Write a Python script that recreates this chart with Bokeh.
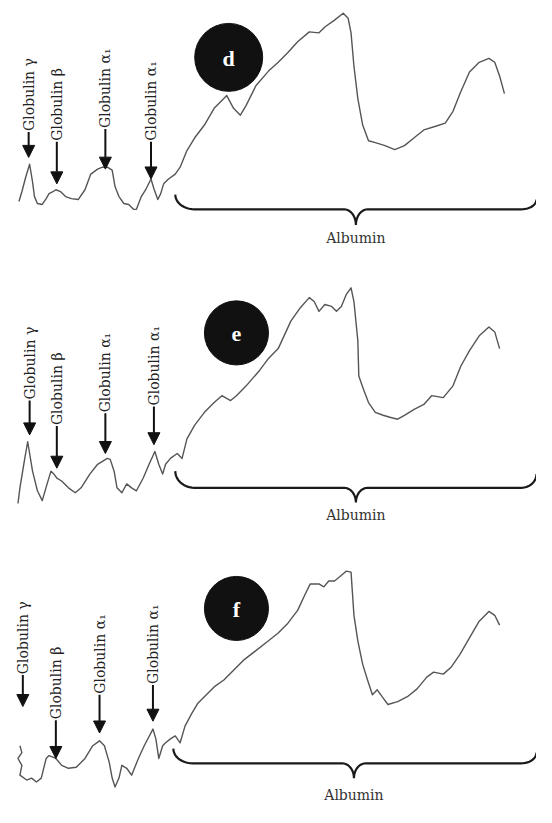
import numpy as np
from bokeh.plotting import figure
from bokeh.models import Range1d, ColumnDataSource, Arrow, NormalHead
from bokeh.core.properties import value
from bokeh.embed import file_html
from bokeh.resources import INLINE

# ---- densitometer scans: position along strip and absorbance
d_pos = [19,22,26,30,33,35,38,43,47,50,54,57,62,67,73,80,87,93,100,105,
         110,115,118,122,127,132,137,140,145,150,155,158,162,165,168,173,180,185,192,200,
         210,220,230,233,240,247,253,263,276,286,296,306,318,328,334,344,353,358,361,364,
         368,373,379,386,396,406,416,426,436,449,458,466,474,483,493,503,509,514,519]
d_abs = [15,25,40,53,35,20,13,12,18,23,25,27,25,20,18,17,27,43,48,50,
         50,47,30,20,13,12,7,7,20,28,38,28,17,23,33,38,43,50,67,80,
         93,110,120,123,110,103,113,133,148,157,167,178,188,187,193,200,207,202,187,153,
         120,93,77,75,72,68,72,80,88,92,95,107,127,147,157,161,157,143,125]

e_pos = [18,20,25,28,33,38,43,48,52,55,58,63,70,77,83,92,100,110,113,117,
         120,125,130,135,140,147,153,159,163,167,170,175,182,187,192,200,210,220,228,237,
         243,253,267,276,286,299,309,318,323,328,334,341,346,351,356,361,364,368,369,374,
         379,386,394,401,409,416,426,436,444,456,466,474,483,493,503,509,514]
e_abs = [7,23,53,70,40,20,10,27,40,37,33,30,23,18,23,37,47,53,52,40,
         23,18,27,23,20,33,47,60,47,37,47,53,58,53,73,87,100,110,117,112,
         117,127,143,155,165,193,207,217,213,203,210,208,203,208,220,227,213,173,137,123,
         110,100,97,95,93,97,103,108,117,115,127,147,163,178,187,182,165]

f_pos = [20,22,18,22,20,27,32,37,42,47,50,57,63,70,78,87,95,102,107,112,
         115,118,122,125,130,135,142,148,157,160,163,167,170,175,180,185,190,197,203,213,
         220,230,240,250,263,276,286,296,306,313,319,328,333,338,344,349,356,361,364,368,
         373,378,383,388,393,399,409,419,429,439,446,456,464,473,483,493,503,509,514]
f_abs = [50,43,37,30,20,15,17,13,17,37,40,37,30,27,28,37,50,55,50,33,
         17,8,17,30,27,20,37,50,67,57,37,50,53,57,60,53,70,83,93,103,
         110,117,127,137,147,157,165,175,188,203,215,215,212,218,218,222,228,227,183,157,
         133,117,102,107,100,92,95,100,108,120,125,123,130,143,160,177,187,183,173]

panel_letters = ["d", "e", "f"]
fraction_labels = ["Globulin \u03b3", "Globulin \u03b2", "Globulin \u03b1\u2081", "Globulin \u03b1\u2081"]
albumin_label = "Albumin"

# ---- layout (coordinates of the original 552x823 figure)
bases = [220, 520, 810]
label_layout = [
    [(29, 133, 160), (58, 143, 187), (108, 130, 172), (155, 143, 182)],
    [(30, 407, 443), (58, 433, 477), (108, 420, 462), (158, 413, 453)],
    [(23, 687, 720), (57, 733, 773), (102, 707, 747), (157, 697, 735)],
]
circles = [(235, 58, 35), (243, 339, 33), (243, 620, 33)]
braces = [  # x0, y_start, y_line, x_mid, y_tip, x1, y_end
    (180, 198, 213, 366, 229, 552, 203),
    (180, 480, 497, 366, 512, 552, 483),
    (178, 763, 778, 364, 793, 552, 767),
]
albumin_pos = [(366, 242), (366, 525), (364, 810)]

p = figure(width=536, height=807, output_backend="svg", toolbar_location=None,
           x_range=Range1d(0, 552), y_range=Range1d(823, 0),
           min_border=0, min_border_left=0, min_border_right=0,
           min_border_top=0, min_border_bottom=0)
p.axis.visible = False
p.grid.visible = False
p.outline_line_color = None
p.background_fill_color = "white"
p.border_fill_color = "white"

def brace_path(x0, ys, yl, xm, yt, x1, ye):
    t = np.linspace(0, np.pi / 2, 12)
    xs, yy = [], []
    xs += list(x0 + 20 * (1 - np.cos(t))); yy += list(ys + (yl - ys) * np.sin(t))
    xs += list(xm - 12 + 12 * np.sin(t)); yy += list(yl + (yt - yl) * (1 - np.cos(t)))
    xs += list(xm + 12 - 12 * np.cos(t)); yy += list(yt - (yt - yl) * np.sin(t))
    xs += list(x1 - 16 + 16 * np.sin(t)); yy += list(yl - (yl - ye) * (1 - np.cos(t)))
    return xs, yy

traces = [(d_pos, d_abs), (e_pos, e_abs), (f_pos, f_abs)]
for i, (pos, ab) in enumerate(traces):
    y = bases[i] - np.array(ab, dtype=float)
    p.line(pos, y, line_color="#555555", line_width=1.4, line_join="round")

    bx, by = brace_path(*braces[i])
    p.line(bx, by, line_color="#1a1a1a", line_width=2.2)
    ax, ay = albumin_pos[i]
    p.text([ax], [ay], text=[albumin_label], text_align="center", text_baseline="middle",
           text_font=value("DejaVu Serif"), text_font_size="14px", text_color="#333333")

    cx, cy, r = circles[i]
    p.circle([cx], [cy], radius=r, fill_color="#111111", line_color="#111111")
    p.text([cx], [cy + 1], text=[panel_letters[i]], text_align="center", text_baseline="middle",
           text_font=value("Liberation Serif"), text_font_style="bold",
           text_font_size="22px", text_color="white")

    lx = [l[0] for l in label_layout[i]]
    lb = [l[1] for l in label_layout[i]]
    lt = [l[2] for l in label_layout[i]]
    p.text(lx, lb, text=fraction_labels, angle=np.pi / 2, text_align="left",
           text_baseline="middle", text_font=value("DejaVu Serif"),
           text_font_size="14px", text_color="#222222")
    src = ColumnDataSource(dict(x=lx, y0=[b + 1 for b in lb], y1=lt))
    p.add_layout(Arrow(end=NormalHead(size=12, fill_color="#111111", line_color="#111111"),
                       source=src, x_start="x", y_start="y0", x_end="x", y_end="y1",
                       line_width=2, line_color="#111111"))

open("out.html", "w").write(file_html(p, INLINE))
